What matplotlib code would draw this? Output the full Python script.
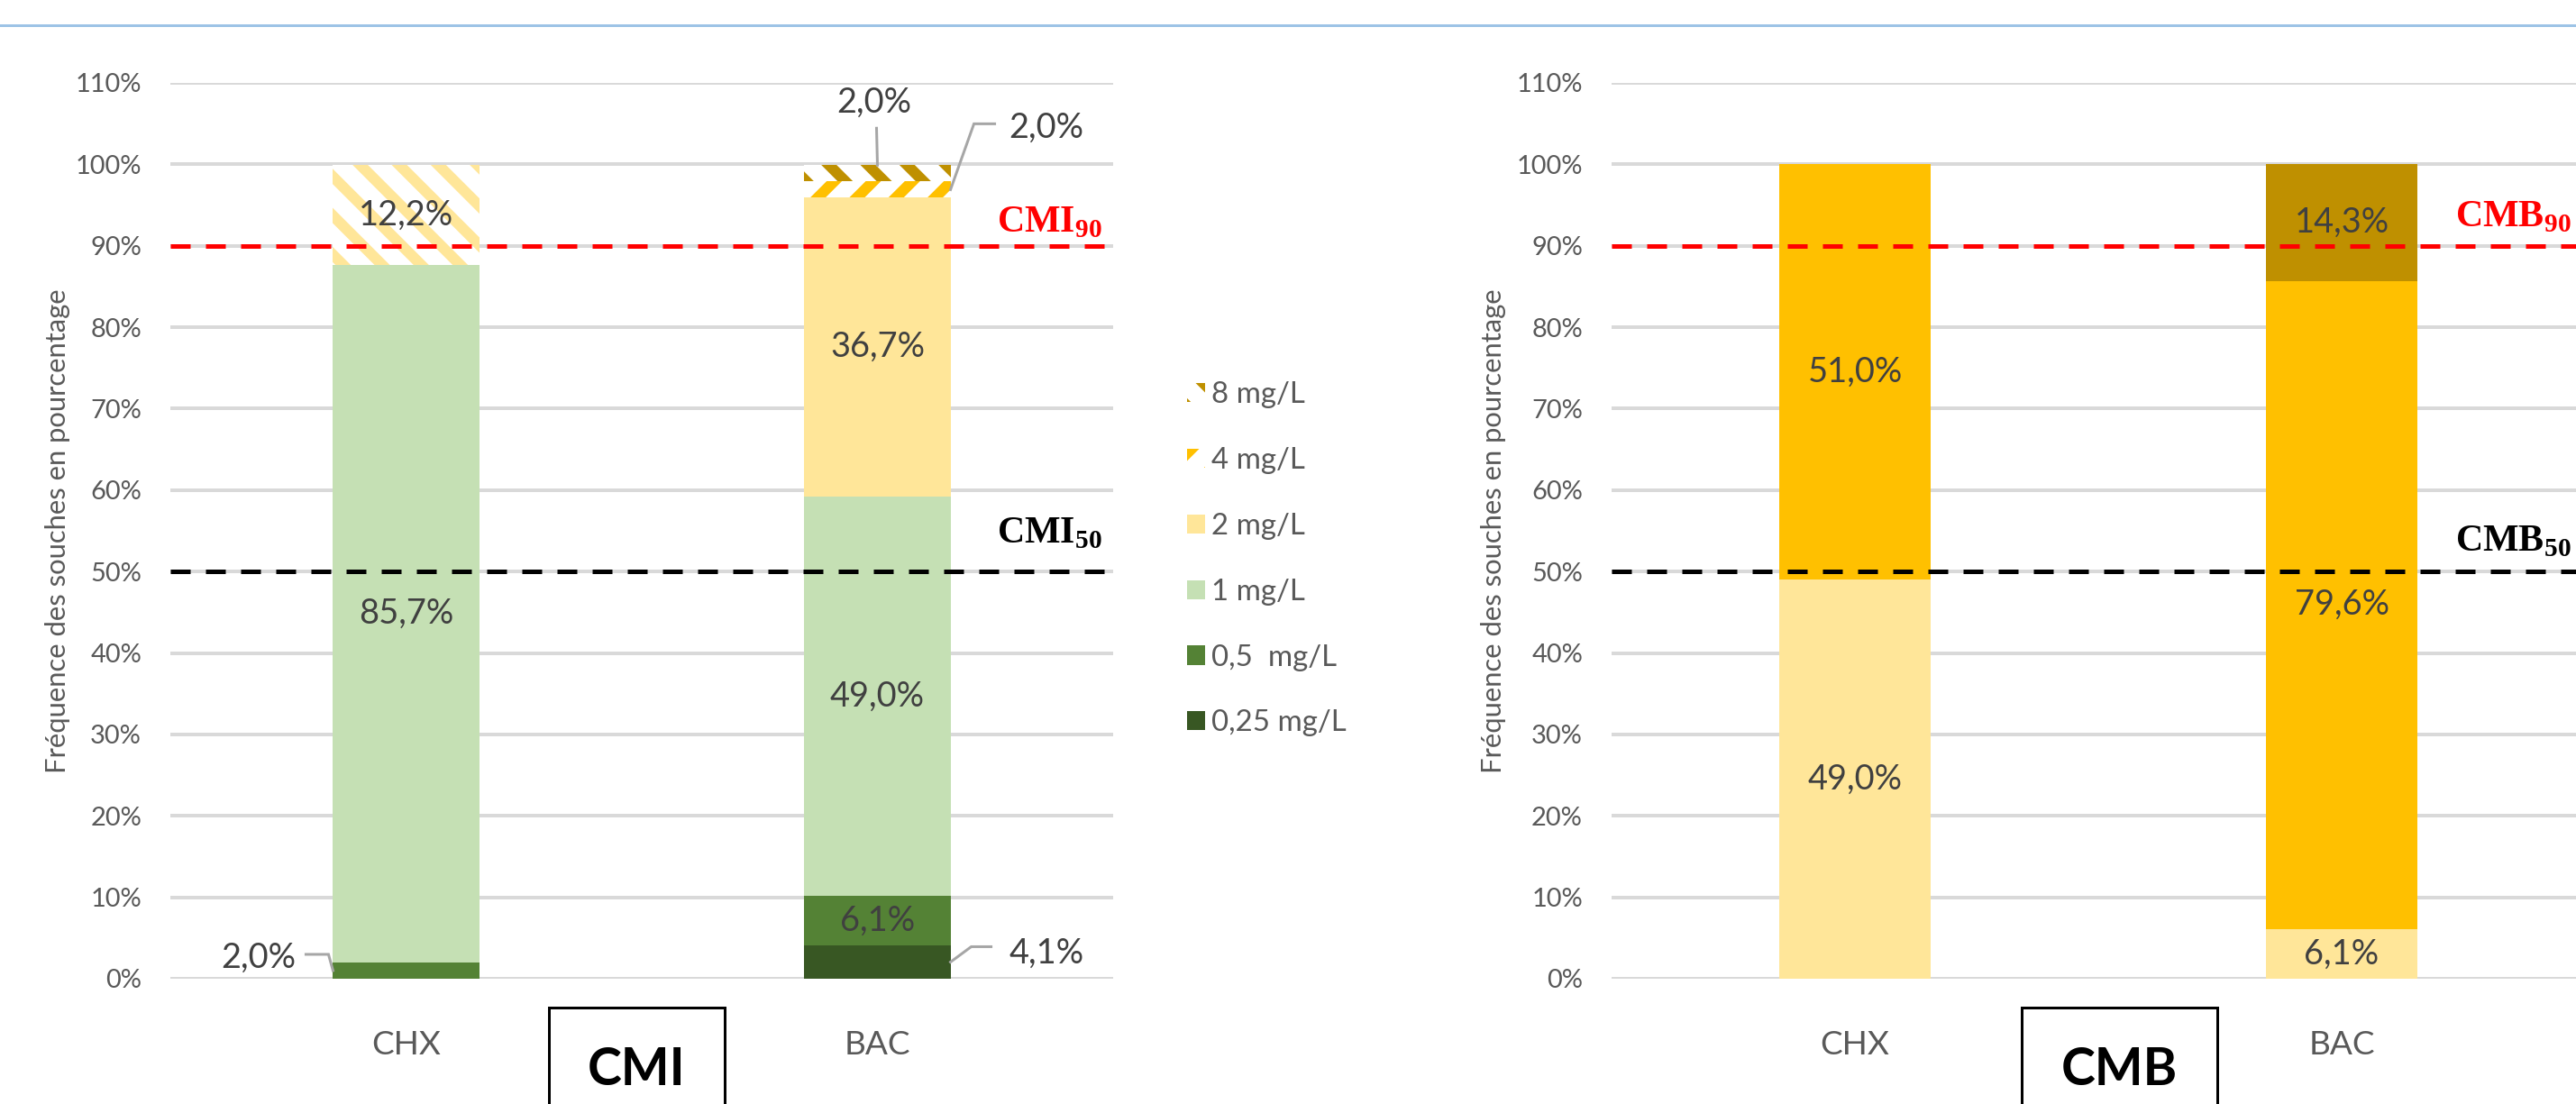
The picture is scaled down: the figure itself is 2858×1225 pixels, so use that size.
import matplotlib
matplotlib.use('Agg')
import matplotlib.pyplot as plt
from matplotlib.lines import Line2D
from matplotlib.patches import Rectangle
import numpy as np

W, H, DPI = 2858, 1225, 260


def pt(px):
    # pixels of the output image -> points
    return px * 72.0 / DPI


plt.rcParams['font.family'] = ['Lato', 'DejaVu Sans']
plt.rcParams['mathtext.fontset'] = 'custom'
plt.rcParams['mathtext.rm'] = 'Liberation Serif'
plt.rcParams['mathtext.bf'] = 'Liberation Serif:bold'
plt.rcParams['hatch.linewidth'] = pt(12)

# ---- data ----
produits = ['CHX', 'BAC']
concentrations = ['0,25 mg/L', '0,5  mg/L', '1 mg/L', '2 mg/L', '4 mg/L', '8 mg/L']
cmi_chx = [0.0, 2.0, 85.7, 12.2, 0.0, 0.0]
cmi_bac = [4.1, 6.1, 49.0, 36.7, 2.0, 2.0]
cmb_chx = [0.0, 0.0, 0.0, 49.0, 51.0, 0.0]
cmb_bac = [0.0, 0.0, 0.0, 6.1, 79.6, 14.3]
yticks = list(range(0, 111, 10))

# ---- styles ----
couleurs = ['#385723', '#548235', '#C5E0B4', '#FFE699', '#FFC000', '#BF9000']
# hatched segments of the CMI chart: (product, concentration) -> hatch
hachures_cmi = {(0, 3): '\\\\', (1, 4): '//', (1, 5): '\\\\'}
# labels with a leader line: (product, conc) -> (anchor side, leader pts, text offset, ha)
renvois_cmi = {
    (0, 1): ('left', [(-5, -18), (-30, -18)], (-41, -14), 'right'),
    (1, 0): ('right', [(23, -17), (45, -17)], (65, -10), 'left'),
    (1, 5): ('top', [(-1, -41)], (-4, -70), 'center'),
    (1, 4): ('right', [(26, -73), (49, -73)], (65, -69), 'left'),
}

LARG = 0.31
GRIS_TXT = '#595959'
LBL_TXT = '#404040'


def fmt(v):
    return f"{v:.1f}".replace('.', ',') + '%'


def offset_point(ax, x, y, dx, dy):
    # data point moved by (dx, dy) output pixels (dy positive = down)
    disp = ax.transData.transform((x, y))
    return ax.transData.inverted().transform((disp[0] + dx, disp[1] - dy))


def draw_panel(ax, series, hachures, renvois):
    ax.set_xlim(-0.5, 1.5)
    ax.set_ylim(0, 110)
    x = np.arange(len(produits))
    bottoms = np.zeros(len(produits))
    conteneurs = []
    for k, lab in enumerate(concentrations):
        vals = np.array([s[k] for s in series])
        bars = ax.bar(x, vals, LARG, bottom=bottoms, color=couleurs[k],
                      linewidth=0, zorder=2, label=lab)
        for i, p in enumerate(bars.patches):
            if (i, k) in hachures:
                p.set_facecolor('white')
                p.set_edgecolor(couleurs[k])
                p.set_hatch(hachures[(i, k)])
        conteneurs.append(bars)
        for i, v in enumerate(vals):
            if v <= 0:
                continue
            yc = bottoms[i] + v / 2
            if (i, k) in renvois:
                side, pts, toff, ha = renvois[(i, k)]
                if side == 'left':
                    ax0 = (x[i] - LARG / 2, yc)
                elif side == 'right':
                    ax0 = (x[i] + LARG / 2, yc)
                else:
                    ax0 = (x[i], bottoms[i] + v)
                chemin = [ax0] + [tuple(offset_point(ax, ax0[0], ax0[1], dx, dy)) for dx, dy in pts]
                ax.plot([c[0] for c in chemin], [c[1] for c in chemin],
                        color='#A6A6A6', lw=pt(3), zorder=5, clip_on=False,
                        solid_joinstyle='miter')
                tx, ty = offset_point(ax, ax0[0], ax0[1], toff[0], toff[1])
                ax.text(tx, ty, fmt(v), ha=ha, va='center', fontsize=pt(38),
                        color=LBL_TXT, zorder=6)
            else:
                ax.text(x[i], yc, fmt(v), ha='center', va='center',
                        fontsize=pt(38), color=LBL_TXT, zorder=6)
        bottoms = bottoms + vals

    ax.axhline(90, color='#FF0000', lw=pt(5), dashes=(4.4, 3.4), zorder=4)
    ax.axhline(50, color='#000000', lw=pt(5), dashes=(4.4, 3.4), zorder=4)

    ax.set_yticks(yticks)
    ax.set_yticklabels([f"{t}%" for t in yticks])
    ax.set_xticks(x)
    ax.set_xticklabels(produits)
    ax.tick_params(axis='y', length=0, pad=pt(32), labelsize=pt(29), labelcolor=GRIS_TXT)
    ax.tick_params(axis='x', length=0, pad=pt(57), labelsize=pt(37), labelcolor=GRIS_TXT)
    ax.yaxis.grid(True, color='#D9D9D9', lw=pt(4))
    ax.set_axisbelow(True)
    for s in ax.spines.values():
        s.set_visible(False)
    ax.set_ylabel('Fréquence des souches en pourcentage', fontsize=pt(31), color=GRIS_TXT)
    return conteneurs


fig = plt.figure(figsize=(W / DPI, H / DPI), dpi=DPI)

bas = 1 - 1086 / H
haut = (1086 - 92) / H
ax1 = fig.add_axes([189 / W, bas, 1046 / W, haut])
ax2 = fig.add_axes([1788 / W, bas, 1080 / W, haut])

c1 = draw_panel(ax1, [cmi_chx, cmi_bac], hachures_cmi, renvois_cmi)
c2 = draw_panel(ax2, [cmb_chx, cmb_bac], {}, {})
ax1.yaxis.set_label_coords(-0.106, 0.5)
ax2.yaxis.set_label_coords(-0.108, 0.5)

# CMI / CMB threshold labels
ax1.text(1.5 - 12 / 523, 91.7, r'$\mathbf{CMI}_{\mathbf{90}}$', color='#FF0000',
         ha='right', va='baseline', fontsize=pt(42))
ax1.text(1.5 - 12 / 523, 53.5, r'$\mathbf{CMI}_{\mathbf{50}}$', color='black',
         ha='right', va='baseline', fontsize=pt(42))
ax2.text(1.5 - 15 / 540, 92.4, r'$\mathbf{CMB}_{\mathbf{90}}$', color='#FF0000',
         ha='right', va='baseline', fontsize=pt(42))
ax2.text(1.5 - 15 / 540, 52.6, r'$\mathbf{CMB}_{\mathbf{50}}$', color='black',
         ha='right', va='baseline', fontsize=pt(42))

# legend (CMI chart only), top = 8 mg/L
handles = [c.patches[1] for c in c1][::-1]
labels = concentrations[::-1]
fig.legend(handles, labels, loc='upper left',
           bbox_to_anchor=(1317 / W, 1 - 423 / H), bbox_transform=fig.transFigure,
           frameon=False, fontsize=pt(33), labelcolor=GRIS_TXT,
           handlelength=20 / 33, handleheight=20 / 33, handletextpad=0.22,
           labelspacing=1.3, borderpad=0, borderaxespad=0)

# boxed captions under the charts
for x0, x1, txt in [(609, 804, 'CMI'), (2243, 2460, 'CMB')]:
    fig.add_artist(Rectangle((x0 / W, -0.05), (x1 - x0) / W, 1.05 - 1118 / H,
                             transform=fig.transFigure, facecolor='white',
                             edgecolor='black', lw=pt(3)))
    fig.text((x0 + x1) / 2 / W, 1 - 1188 / H, txt, ha='center', va='center',
             fontsize=pt(57), fontweight='bold', color='black')

# thin blue rule at the top
fig.add_artist(Line2D([0, 1], [1 - 28 / H] * 2, transform=fig.transFigure,
                      color='#9DC3E6', lw=pt(3)))

fig.savefig('out.png', dpi=DPI)
